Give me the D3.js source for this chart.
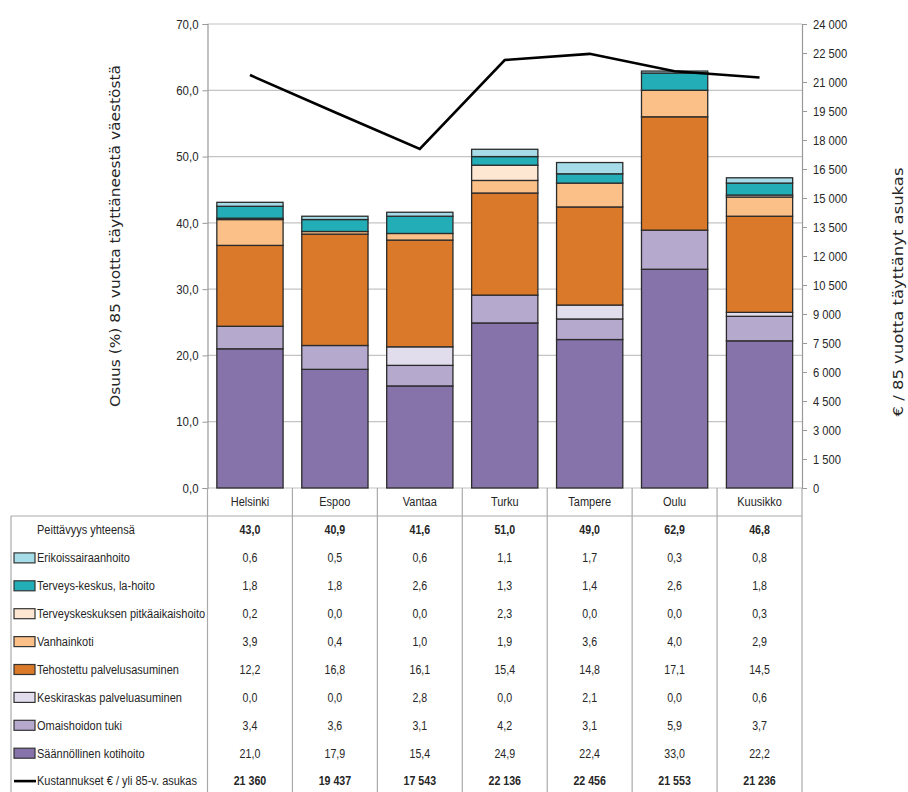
<!DOCTYPE html>
<html><head><meta charset="utf-8">
<script src="https://cdn.jsdelivr.net/npm/d3@7"></script>
<style>
body{margin:0;background:#fff;}
svg text{font-family:"Liberation Sans Narrow","Liberation Sans",Arial,sans-serif;fill:#262626;}
</style></head>
<body><svg id="c" width="908" height="792"></svg>
<script>
const categories = ["Helsinki","Espoo","Vantaa","Turku","Tampere","Oulu","Kuusikko"];
const kotihoito   = [21.0,17.9,15.4,24.9,22.4,33.0,22.2];
const omaishoito  = [3.4,3.6,3.1,4.2,3.1,5.9,3.7];
const keskiraskas = [0.0,0.0,2.8,0.0,2.1,0.0,0.6];
const tehostettu  = [12.2,16.8,16.1,15.4,14.8,17.1,14.5];
const vanhainkoti = [3.9,0.4,1.0,1.9,3.6,4.0,2.9];
const tkPitka     = [0.2,0.0,0.0,2.3,0.0,0.0,0.3];
const tkLyhyt     = [1.8,1.8,2.6,1.3,1.4,2.6,1.8];
const esh         = [0.6,0.5,0.6,1.1,1.7,0.3,0.8];
const totals      = [43.0,40.9,41.6,51.0,49.0,62.9,46.8];
const costs       = [21360,19437,17543,22136,22456,21553,21236];
const leftTicks   = [0,10,20,30,40,50,60,70];
const rightTicks  = [0,1500,3000,4500,6000,7500,9000,10500,12000,13500,15000,16500,18000,19500,21000,22500,24000];

const series = [
  {name:"Säännöllinen kotihoito", values:kotihoito, color:"#8673AA"},
  {name:"Omaishoidon tuki", values:omaishoito, color:"#B5A9CD"},
  {name:"Keskiraskas palveluasuminen", values:keskiraskas, color:"#E2DDED"},
  {name:"Tehostettu palvelusasuminen", values:tehostettu, color:"#D97929"},
  {name:"Vanhainkoti", values:vanhainkoti, color:"#FAC087"},
  {name:"Terveyskeskuksen pitkäaikaishoito", values:tkPitka, color:"#FDE7D3"},
  {name:"Terveys-keskus, la-hoito", values:tkLyhyt, color:"#23ADB7"},
  {name:"Erikoissairaanhoito", values:esh, color:"#A6DCE7"}
];

const svg = d3.select("#c");
const L = 207.5, R = 802, T = 24, B = 488;
const x = d3.scaleBand().domain(categories).range([L,R]).padding(0);
const y = d3.scaleLinear().domain([0,70]).range([B,T]);
const y2 = d3.scaleLinear().domain([0,24000]).range([B,T]);
const loc = d3.formatLocale({decimal:",", thousands:" ", grouping:[3], currency:["","€"]});
const f1 = loc.format(".1f");
const fInt = loc.format(",d");

// condense text to mimic a narrow font
function narrow(sel, k){
  sel.each(function(){
    const w = this.getComputedTextLength();
    if(w>0) d3.select(this).attr("textLength", w*k).attr("lengthAdjust","spacingAndGlyphs");
  });
}

// gridlines
svg.append("g").selectAll("line").data(leftTicks).join("line")
  .attr("x1",L).attr("x2",R).attr("y1",d=>y(d)).attr("y2",d=>y(d))
  .attr("stroke","#c4c4c4").attr("stroke-width",1.2);

// left axis
const ga = svg.append("g").attr("transform",`translate(${L},0)`)
  .call(d3.axisLeft(y).tickValues(leftTicks).tickFormat(f1).tickSize(5).tickPadding(4));
ga.select(".domain").attr("stroke","#999").attr("stroke-width",1.2);
ga.selectAll(".tick line").attr("stroke","#999");
ga.selectAll("text").style("font-size","13px").attr("fill","#262626").call(narrow,0.88);

// right axis
const gb = svg.append("g").attr("transform",`translate(${R},0)`)
  .call(d3.axisRight(y2).tickValues(rightTicks).tickFormat(fInt).tickSize(5).tickPadding(6));
gb.select(".domain").attr("stroke","#999").attr("stroke-width",1.2);
gb.selectAll(".tick line").attr("stroke","#999");
gb.selectAll("text").style("font-size","13px").attr("fill","#262626").call(narrow,0.86);

// stacked bars
const rows = categories.map((c,i)=>{const o={cat:c}; series.forEach((s,k)=>o["s"+k]=s.values[i]); return o;});
const stack = d3.stack().keys(series.map((s,k)=>"s"+k))(rows);
const bw = x.bandwidth()*0.78;
svg.append("g").selectAll("g").data(stack).join("g")
  .attr("fill",(d,k)=>series[k].color)
  .selectAll("rect").data(d=>d).join("rect")
  .attr("x",d=>x(d.data.cat)+(x.bandwidth()-bw)/2)
  .attr("width",bw)
  .attr("y",d=>y(d[1]))
  .attr("height",d=>Math.max(0,y(d[0])-y(d[1])))
  .attr("stroke","#2b2b2b").attr("stroke-width",1.3);

// cost line
const line = d3.line().x((d,i)=>x(categories[i])+x.bandwidth()/2).y(d=>y2(d));
svg.append("path").datum(costs).attr("d",line)
  .attr("fill","none").attr("stroke","#000").attr("stroke-width",2.6).attr("stroke-linejoin","miter");

// axis titles
svg.append("text").attr("transform","translate(120,236) rotate(-90)")
  .attr("text-anchor","middle").style("font-family","'DejaVu Sans',sans-serif").style("font-size","14.5px")
  .attr("fill","#333").attr("textLength",342).attr("lengthAdjust","spacingAndGlyphs")
  .text("Osuus (%) 85 vuotta täyttäneestä väestöstä");
svg.append("text").attr("transform","translate(903,292) rotate(-90)")
  .attr("text-anchor","middle").style("font-family","'DejaVu Sans',sans-serif").style("font-size","14.5px")
  .attr("fill","#333").attr("textLength",249).attr("lengthAdjust","spacingAndGlyphs")
  .text("€ / 85 vuotta täyttänyt asukas");

// table
const tbl = svg.append("g");
const bounds = categories.map(c=>x(c)).concat([R]);
tbl.selectAll("line.v").data(bounds).join("line").attr("class","v")
  .attr("x1",d=>d).attr("x2",d=>d).attr("y1",B).attr("y2",792)
  .attr("stroke","#aaa").attr("stroke-width",1.2);
tbl.append("line").attr("x1",11).attr("x2",R).attr("y1",516).attr("y2",516).attr("stroke","#aaa").attr("stroke-width",1.2);
tbl.append("line").attr("x1",11).attr("x2",11).attr("y1",516).attr("y2",792).attr("stroke","#aaa").attr("stroke-width",1.2);

tbl.selectAll("text.cat").data(categories).join("text").attr("class","cat")
  .attr("x",d=>x(d)+x.bandwidth()/2).attr("y",502).attr("dy","0.35em")
  .attr("text-anchor","middle").style("font-size","12.5px").text(d=>d).call(narrow,0.88);

const tableRows = [
  {label:"Peittävyys yhteensä", values:totals, bold:true, kind:"none"},
  ...series.slice().reverse().map(s=>({label:s.name, values:s.values, bold:false, kind:"rect", color:s.color})),
  {label:"Kustannukset € / yli 85-v. asukas", values:costs, bold:true, kind:"line", fmt:fInt}
];
const rowY = i => 530 + i*27.9;
tableRows.forEach((r,i)=>{
  const yy = rowY(i);
  if(r.kind==="rect"){
    tbl.append("rect").attr("x",14).attr("y",yy-5).attr("width",21).attr("height",10)
      .attr("fill",r.color).attr("stroke","#333").attr("stroke-width",1.2);
  } else if(r.kind==="line"){
    tbl.append("line").attr("x1",14).attr("x2",36).attr("y1",yy).attr("y2",yy).attr("stroke","#000").attr("stroke-width",2.6);
  }
  tbl.append("text").attr("x",37).attr("y",yy).attr("dy","0.35em").style("font-size","12.5px").text(r.label).call(narrow,0.88);
  const fmt = r.fmt || f1;
  tbl.selectAll(null).data(r.values).join("text")
    .attr("x",(d,j)=>x(categories[j])+x.bandwidth()/2).attr("y",yy).attr("dy","0.35em")
    .attr("text-anchor","middle").style("font-size","12.5px").style("font-weight",r.bold?"bold":"normal")
    .text(d=>fmt(d)).call(narrow,0.85);
});
</script></body></html>
